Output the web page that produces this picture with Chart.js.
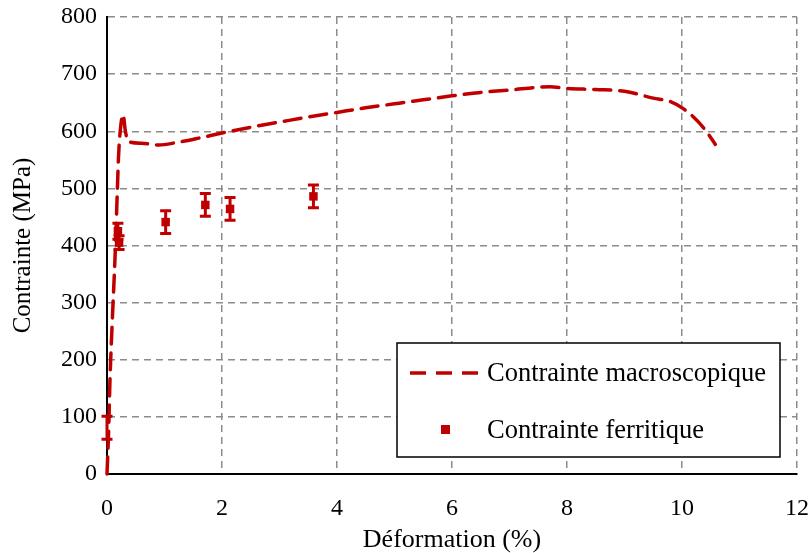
<!DOCTYPE html>
<html>
<head>
<meta charset="utf-8">
<script src="https://cdn.jsdelivr.net/npm/chart.js@4"></script>
<style>
  html, body { margin: 0; padding: 0; background: #fff; }
  #wrap { width: 811px; height: 553px; }
</style>
</head>
<body>
<div id="wrap"><canvas id="stressChart"></canvas></div>
<script>
// ===== données =====
// courbe macroscopique : déformation (%) / contrainte (MPa)
const macroStrain = [0, 0.03, 0.05, 0.09, 0.14, 0.18, 0.2, 0.24, 0.28, 0.32, 0.37, 0.6, 0.9, 1.2, 1.6, 2, 2.5, 3, 3.5, 4, 4.5, 5, 5.5, 6, 6.5, 7, 7.5, 7.7, 8, 8.5, 9, 9.5, 9.8, 10, 10.2, 10.4, 10.58];
const macroStress = [0, 80, 159, 264, 380, 497, 555, 610, 629, 600, 582, 579, 576, 580, 588, 597, 607, 616, 625, 633, 641, 648, 655, 662, 668, 672, 677, 678, 675, 673, 670, 658, 652, 641, 625, 603, 577];

// contrainte ferritique (DRX) avec barres d'erreur
const ferriteStrain = [0, 0.19, 0.21, 1.02, 1.71, 2.14, 3.59];
const ferriteStress = [81, 425, 405, 441, 471, 464, 486];
const ferriteError  = [20, 14, 12, 20, 20, 20, 20];

const xTicks = [0, 2, 4, 6, 8, 10, 12];
const yTicks = [0, 100, 200, 300, 400, 500, 600, 700, 800];

const RED = '#c00000';
const FONT = "'Liberation Serif', 'Times New Roman', serif";

// barres d'erreur verticales sous les marqueurs
const errorBars = {
  id: 'errorBars',
  beforeDatasetDraw(chart, args) {
    if (args.index !== 1) return;
    const { ctx, scales: { x, y } } = chart;
    ctx.save();
    ctx.strokeStyle = RED;
    ctx.lineWidth = 3;
    ferriteStrain.forEach((s, i) => {
      const px = x.getPixelForValue(s);
      const lo = y.getPixelForValue(ferriteStress[i] - ferriteError[i]);
      const hi = y.getPixelForValue(ferriteStress[i] + ferriteError[i]);
      ctx.beginPath();
      ctx.moveTo(px, lo); ctx.lineTo(px, hi);
      ctx.moveTo(px - 5.5, lo); ctx.lineTo(px + 5.5, lo);
      ctx.moveTo(px - 5.5, hi); ctx.lineTo(px + 5.5, hi);
      ctx.stroke();
    });
    ctx.restore();
  }
};

// légende encadrée dans la zone du graphique
const boxLegend = {
  id: 'boxLegend',
  afterDraw(chart) {
    const { ctx } = chart;
    const ds = chart.data.datasets;
    const bx = 397, by = 343, bw = 383, bh = 114;
    ctx.save();
    ctx.fillStyle = '#fff';
    ctx.fillRect(bx, by, bw, bh);
    ctx.strokeStyle = '#000';
    ctx.lineWidth = 1.5;
    ctx.strokeRect(bx, by, bw, bh);

    ctx.font = '26.5px ' + FONT;
    ctx.fillStyle = '#000';
    ctx.textBaseline = 'middle';

    // ligne pointillée
    ctx.strokeStyle = RED;
    ctx.lineWidth = 3.5;
    ctx.lineCap = 'butt';
    ctx.setLineDash([16, 10]);
    ctx.beginPath();
    ctx.moveTo(410, 373); ctx.lineTo(480, 373);
    ctx.stroke();
    ctx.setLineDash([]);
    ctx.fillText(ds[0].label, 487, 374);

    // marqueur carré
    ctx.fillStyle = RED;
    ctx.fillRect(441, 425, 9, 9);
    ctx.fillStyle = '#000';
    ctx.fillText(ds[1].label, 487, 431);
    ctx.restore();
  }
};

new Chart(document.getElementById('stressChart'), {
  type: 'scatter',
  data: {
    datasets: [
      {
        label: 'Contrainte macroscopique',
        data: macroStrain.map((s, i) => ({ x: s, y: macroStress[i] })),
        showLine: true,
        borderColor: RED,
        borderWidth: 3.5,
        borderDash: [17, 9],
        borderCapStyle: 'round',
        pointRadius: 0,
        cubicInterpolationMode: 'monotone',
        order: 1
      },
      {
        label: 'Contrainte ferritique',
        data: ferriteStrain.map((s, i) => ({ x: s, y: ferriteStress[i] })),
        pointStyle: 'rect',
        pointRadius: ferriteStrain.map((s, i) => i === 0 ? 0 : 6),
        backgroundColor: RED,
        borderColor: RED,
        borderWidth: 0,
        order: 0
      }
    ]
  },
  options: {
    responsive: true,
    maintainAspectRatio: false,
    animation: false,
    clip: false,
    layout: { padding: { left: 0, top: 17, right: 14, bottom: 0 } },
    plugins: {
      legend: { display: false },
      tooltip: { enabled: false }
    },
    scales: {
      x: {
        type: 'linear',
        min: 0, max: 12,
        afterBuildTicks: s => { s.ticks = xTicks.map(v => ({ value: v })); },
        afterFit: s => { s.height = 79; s.paddingLeft = 0; s.paddingRight = 0; },
        ticks: { color: '#000', padding: 20, font: { family: FONT, size: 24 } },
        grid: { color: '#8c8c8c', lineWidth: 1.5, drawTicks: false },
        border: { display: true, color: '#000', width: 2, dash: [7, 5] },
        title: {
          display: true, text: 'Déformation (%)', color: '#000',
          font: { family: FONT, size: 26 }, padding: { top: 0, bottom: -3 }
        }
      },
      y: {
        min: 0, max: 800,
        afterBuildTicks: s => { s.ticks = yTicks.map(v => ({ value: v })); },
        afterFit: s => { s.width = 107; s.paddingTop = 0; s.paddingBottom = 0; },
        ticks: { color: '#000', padding: 10, font: { family: FONT, size: 24 } },
        grid: { color: '#8c8c8c', lineWidth: 1.5, drawTicks: false },
        border: { display: true, color: '#000', width: 2, dash: [7, 5] },
        title: {
          display: true, text: 'Contrainte (MPa)', color: '#000',
          font: { family: FONT, size: 25 }, padding: { top: 8, bottom: 0 }
        }
      }
    }
  },
  plugins: [errorBars, boxLegend]
});
</script>
</body>
</html>
